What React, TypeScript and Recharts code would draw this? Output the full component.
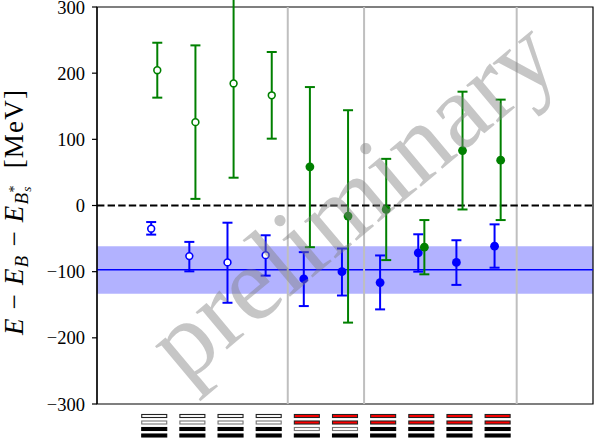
import React from 'react';
import {
  ComposedChart,
  Scatter,
  XAxis,
  YAxis,
  ErrorBar,
  ReferenceLine,
  ReferenceArea,
} from 'recharts';

// ---- data ----
const categories = [0, 1, 2, 3, 4, 5, 6, 7, 8, 9];
const openMarker = [true, true, true, true, false, false, false, false, false, false];

const greenValue = [204.5, 126, 184.5, 166.5, 58.5, -16, -6, -63, 83, 68.5];
const greenUpper = [246, 242, 327, 232, 179, 144, 70.5, -22, 172, 160];
const greenLower = [163, 10, 42, 101, -63, -177, -82.5, -104, -6, -22];

const blueValue = [-35, -76.5, -86, -75, -111, -100, -116.5, -71.5, -86, -61.5];
const blueUpper = [-25, -55, -26, -45, -70.5, -65, -75.5, -43.5, -52.5, -28.5];
const blueLower = [-44, -99.5, -147, -106, -152, -136, -157, -100, -120, -94];

const fitCentral = -97;
const fitLower = -133.5;
const fitUpper = -61.5;

const separators = [3.5, 5.5, 9.5];
const yTicks = [-300, -200, -100, 0, 100, 200, 300];

// icon rows per category: 'empty' | 'gray' | 'red' | 'black'
const iconRow1 = ['empty', 'empty', 'empty', 'empty', 'red', 'red', 'red', 'red', 'red', 'red'];
const iconRow2 = ['gray', 'gray', 'gray', 'gray', 'red', 'red', 'red', 'red', 'red', 'red'];
const iconRow3 = ['black', 'black', 'black', 'black', 'gray', 'gray', 'black', 'black', 'black', 'black'];
const iconRow4 = ['black', 'black', 'black', 'black', 'black', 'black', 'black', 'black', 'black', 'black'];

const GREEN = '#008000';
const BLUE = '#0000ff';
const SERIF = '"Liberation Serif", "DejaVu Serif", serif';

const greenData = categories.map((c, i) => ({
  x: c + 0.08,
  y: greenValue[i],
  err: [greenValue[i] - greenLower[i], greenUpper[i] - greenValue[i]],
  open: openMarker[i],
}));
const blueData = categories.map((c, i) => ({
  x: c - 0.08,
  y: blueValue[i],
  err: [blueValue[i] - blueLower[i], blueUpper[i] - blueValue[i]],
  open: openMarker[i],
}));

const makeShape = (color: string) => (props: any) => {
  const { cx, cy, payload } = props;
  if (cx == null || cy == null) return <g />;
  if (payload && payload.open) {
    return <circle cx={cx} cy={cy} r={3.4} fill="#ffffff" stroke={color} strokeWidth={1.6} />;
  }
  return <circle cx={cx} cy={cy} r={4.4} fill={color} stroke="none" />;
};

const rowStyle = (kind: string) => {
  switch (kind) {
    case 'empty':
      return { fill: '#ffffff', stroke: '#222222' };
    case 'gray':
      return { fill: '#ffffff', stroke: '#777777' };
    case 'red':
      return { fill: '#ff0000', stroke: '#222222' };
    default:
      return { fill: '#000000', stroke: '#000000' };
  }
};

const IconTick = (props: any) => {
  const { x, payload } = props;
  const i = Math.round(payload.value);
  if (i < 0 || i >= categories.length) return <g />;
  const rows = [iconRow1[i], iconRow2[i], iconRow3[i], iconRow4[i]];
  const tops = [414.5, 421, 427.5, 434];
  return (
    <g>
      {rows.map((k, r) => {
        const s = rowStyle(k);
        return (
          <rect
            key={r}
            x={x - 12.5}
            y={tops[r]}
            width={25}
            height={3}
            fill={s.fill}
            stroke={s.stroke}
            strokeWidth={1.1}
          />
        );
      })}
    </g>
  );
};

const fmt = (v: number) => (v < 0 ? `\u2212${Math.abs(v)}` : `${v}`);

export default function App() {
  return (
    <div style={{ position: 'absolute', left: 0, top: 0, width: 598, height: 442, background: '#ffffff' }}>
      <ComposedChart width={598} height={442} margin={{ top: 7, right: 5, bottom: 0, left: 0 }}>
        <XAxis
          type="number"
          dataKey="x"
          domain={[-1.5, 11.5]}
          ticks={categories}
          interval={0}
          tick={<IconTick />}
          tickLine={false}
          axisLine={false}
          height={38}
          allowDataOverflow
        />
        <YAxis
          type="number"
          dataKey="y"
          domain={[-300, 300]}
          ticks={yTicks}
          interval={0}
          width={97}
          tickSize={5}
          tickMargin={7}
          tickFormatter={fmt}
          tick={{ fill: '#000000', fontSize: 18.5, fontFamily: SERIF }}
          axisLine={{ stroke: '#000000', strokeWidth: 1.2 }}
          tickLine={{ stroke: '#000000', strokeWidth: 1.2 }}
          allowDataOverflow
        />
        <ReferenceArea y1={fitLower} y2={fitUpper} x1={-1.5} x2={11.5} fill={BLUE} fillOpacity={0.3} stroke="none" />
        <ReferenceLine y={fitCentral} stroke={BLUE} strokeWidth={1.5} />
        {separators.map((s) => (
          <ReferenceLine key={s} x={s} stroke="#bfbfbf" strokeWidth={2} />
        ))}
        <ReferenceLine y={0} stroke="#000000" strokeWidth={2.2} strokeDasharray="7.4 3.2" />
        <Scatter data={blueData} fill={BLUE} isAnimationActive={false} shape={makeShape(BLUE)}>
          <ErrorBar dataKey="err" direction="y" width={5} stroke={BLUE} strokeWidth={2} />
        </Scatter>
        <Scatter data={greenData} fill={GREEN} isAnimationActive={false} shape={makeShape(GREEN)}>
          <ErrorBar dataKey="err" direction="y" width={5} stroke={GREEN} strokeWidth={2} />
        </Scatter>
        <ReferenceArea x1={-1.5} x2={11.5} y1={-300} y2={300} fill="none" stroke="#000000" strokeWidth={1.2} />
      </ComposedChart>
      <svg
        width={598}
        height={442}
        style={{ position: 'absolute', left: 0, top: 0, pointerEvents: 'none' }}
      >
        <text
          transform="translate(23 212) rotate(-90)"
          textAnchor="middle"
          fontFamily={SERIF}
          fontSize={27}
          letterSpacing={1.2}
          fill="#000000"
        >
          <tspan fontStyle="italic">E</tspan>
          <tspan>{'\u00a0\u2212\u00a0'}</tspan>
          <tspan fontStyle="italic">E</tspan>
          <tspan fontStyle="italic" fontSize={19} dy={5}>B</tspan>
          <tspan dy={-5}>{'\u00a0\u2212\u00a0'}</tspan>
          <tspan fontStyle="italic">E</tspan>
          <tspan fontStyle="italic" fontSize={19} dy={5}>B</tspan>
          <tspan fontStyle="italic" fontSize={13} dy={3}>s</tspan>
          <tspan fontSize={14} dx={-7} dy={-12}>*</tspan>
          <tspan dy={4}>{'\u00a0\u00a0[MeV]'}</tspan>
        </text>
        <text
          transform="translate(374 226) rotate(-40)"
          textAnchor="middle"
          fontFamily={SERIF}
          fontSize={106}
          fill="#808080"
          fillOpacity={0.45}
        >
          preliminary
        </text>
      </svg>
    </div>
  );
}
